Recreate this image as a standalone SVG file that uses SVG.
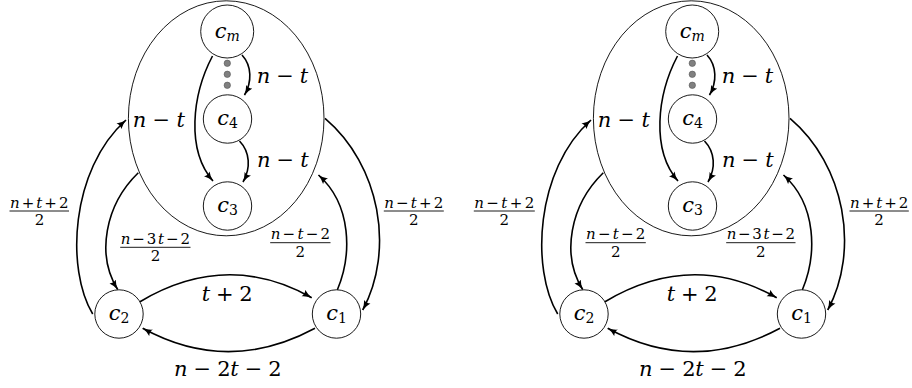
<svg xmlns="http://www.w3.org/2000/svg" width="912" height="388" viewBox="0 0 912 388">
<style>
.bg{fill:#fff}
.nd{fill:#fff;stroke:#000;stroke-width:0.9}
.el{fill:none;stroke:#000;stroke-width:0.9}
.e{fill:none;stroke:#000;stroke-width:1.6;marker-end:url(#ah)}
.m{font-family:"DejaVu Serif","Liberation Serif",serif;font-size:21px;fill:#000}
.fr{font-family:"DejaVu Serif","Liberation Serif",serif;font-size:15px;fill:#000}
.i{font-style:italic}
.sub{font-size:14px}
.bar{stroke:#000;stroke-width:0.9}
.dot{fill:#808080;stroke:#555;stroke-width:0.6}
</style>
<defs>
<marker id="ah" viewBox="0 0 10 8" refX="9.5" refY="4" markerWidth="10" markerHeight="8" markerUnits="userSpaceOnUse" orient="auto">
<path d="M0,0.3 Q4,3 10,4 Q4,5 0,7.7 Q2,4 0,0.3 Z" fill="#000"/>
</marker>
</defs>
<rect class="bg" x="0" y="0" width="912" height="388"/>

<!-- LEFT DIAGRAM -->
<g id="left">
<g id="L-cluster"><ellipse class="el" cx="226.2" cy="118.3" rx="97.8" ry="117.5"/></g>
<g id="L-edges">
<path class="e" d="M212.5,56 C192,95 186,150 213,181"/>
<path class="e" d="M242,55 C252,66 252,82 244.5,95"/>
<path class="e" d="M239.5,141 C250,152 251,168 243,182"/>
<path class="e" d="M92.7,314 C66,270 70,170 126,120"/>
<path class="e" d="M138.3,172.7 C105,205 96,255 117.7,289.5"/>
<path class="e" d="M337.3,290 C352,255 352,205 318.5,175"/>
<path class="e" d="M325,118.3 C380,165 395,250 362.7,310"/>
<path class="e" d="M140,301.7 Q227,250 311.7,297.7"/>
<path class="e" d="M315,328.3 Q228,375 142.7,328.3"/>
</g>
<g id="L-dots">
<circle class="dot" cx="227.3" cy="63.3" r="3.2"/>
<circle class="dot" cx="227.3" cy="74.3" r="3.2"/>
<circle class="dot" cx="227.3" cy="85.3" r="3.2"/>
</g>
<g id="L-cm"><circle class="nd" cx="227.2" cy="31.5" r="26.5"/><text class="m" x="227.2" y="37.5" text-anchor="middle"><tspan class="i">c</tspan><tspan class="sub i" dy="3">m</tspan></text></g>
<g id="L-c4"><circle class="nd" cx="227.5" cy="119" r="24.2"/><text class="m" x="227.5" y="125" text-anchor="middle"><tspan class="i">c</tspan><tspan class="sub" dy="3">4</tspan></text></g>
<g id="L-c3"><circle class="nd" cx="227.5" cy="206" r="24.2"/><text class="m" x="227.5" y="212" text-anchor="middle"><tspan class="i">c</tspan><tspan class="sub" dy="3">3</tspan></text></g>
<g id="L-c2"><circle class="nd" cx="119" cy="314" r="24.2"/><text class="m" x="119" y="320" text-anchor="middle"><tspan class="i">c</tspan><tspan class="sub" dy="3">2</tspan></text></g>
<g id="L-c1"><circle class="nd" cx="336.5" cy="314" r="24.2"/><text class="m" x="336.5" y="320" text-anchor="middle"><tspan class="i">c</tspan><tspan class="sub" dy="3">1</tspan></text></g>
<g id="L-labels">
<text class="m" x="256.7" y="83" textLength="51.6" lengthAdjust="spacing"><tspan class="i">n</tspan> − <tspan class="i">t</tspan></text>
<text class="m" x="257" y="167" textLength="51.6" lengthAdjust="spacing"><tspan class="i">n</tspan> − <tspan class="i">t</tspan></text>
<text class="m" x="132.7" y="126.5" textLength="52.3" lengthAdjust="spacing"><tspan class="i">n</tspan> − <tspan class="i">t</tspan></text>
<text class="m" x="201.7" y="301" textLength="51" lengthAdjust="spacing"><tspan class="i">t</tspan> + 2</text>
<text class="m" x="174" y="376" textLength="107.7" lengthAdjust="spacing"><tspan class="i">n</tspan> − 2<tspan class="i">t</tspan> − 2</text>
<text class="fr" x="10" y="207.5" textLength="58.5" lengthAdjust="spacing"><tspan class="i">n</tspan>+<tspan class="i">t</tspan>+2</text>
<line class="bar" x1="9.5" y1="211" x2="69" y2="211"/>
<text class="fr" x="39.5" y="225" text-anchor="middle">2</text>
<text class="fr" x="120.7" y="243.8" textLength="69.3" lengthAdjust="spacing"><tspan class="i">n</tspan>−3<tspan class="i">t</tspan>−2</text>
<line class="bar" x1="120.2" y1="247.3" x2="190.5" y2="247.3"/>
<text class="fr" x="155.5" y="261.3" text-anchor="middle">2</text>
<text class="fr" x="270.7" y="239.2" textLength="59.3" lengthAdjust="spacing"><tspan class="i">n</tspan>−<tspan class="i">t</tspan>−2</text>
<line class="bar" x1="270.2" y1="242.7" x2="330.5" y2="242.7"/>
<text class="fr" x="300.3" y="256.7" text-anchor="middle">2</text>
<text class="fr" x="384.3" y="207.5" textLength="59" lengthAdjust="spacing"><tspan class="i">n</tspan>−<tspan class="i">t</tspan>+2</text>
<line class="bar" x1="383.8" y1="211" x2="443.8" y2="211"/>
<text class="fr" x="413.8" y="225" text-anchor="middle">2</text>
</g>
</g>

<!-- RIGHT DIAGRAM -->
<g id="right" transform="translate(465,0)">
<g id="R-cluster"><ellipse class="el" cx="226.2" cy="118.3" rx="97.8" ry="117.5"/></g>
<g id="R-edges">
<path class="e" d="M212.5,56 C192,95 186,150 213,181"/>
<path class="e" d="M242,55 C252,66 252,82 244.5,95"/>
<path class="e" d="M239.5,141 C250,152 251,168 243,182"/>
<path class="e" d="M92.7,314 C66,270 70,170 126,120"/>
<path class="e" d="M138.3,172.7 C105,205 96,255 117.7,289.5"/>
<path class="e" d="M337.3,290 C352,255 352,205 318.5,175"/>
<path class="e" d="M325,118.3 C380,165 395,250 362.7,310"/>
<path class="e" d="M140,301.7 Q227,250 311.7,297.7"/>
<path class="e" d="M315,328.3 Q228,375 142.7,328.3"/>
</g>
<g id="R-dots">
<circle class="dot" cx="227.3" cy="63.3" r="3.2"/>
<circle class="dot" cx="227.3" cy="74.3" r="3.2"/>
<circle class="dot" cx="227.3" cy="85.3" r="3.2"/>
</g>
<g id="R-cm"><circle class="nd" cx="227.2" cy="31.5" r="26.5"/><text class="m" x="227.2" y="37.5" text-anchor="middle"><tspan class="i">c</tspan><tspan class="sub i" dy="3">m</tspan></text></g>
<g id="R-c4"><circle class="nd" cx="227.5" cy="119" r="24.2"/><text class="m" x="227.5" y="125" text-anchor="middle"><tspan class="i">c</tspan><tspan class="sub" dy="3">4</tspan></text></g>
<g id="R-c3"><circle class="nd" cx="227.5" cy="206" r="24.2"/><text class="m" x="227.5" y="212" text-anchor="middle"><tspan class="i">c</tspan><tspan class="sub" dy="3">3</tspan></text></g>
<g id="R-c2"><circle class="nd" cx="119" cy="314" r="24.2"/><text class="m" x="119" y="320" text-anchor="middle"><tspan class="i">c</tspan><tspan class="sub" dy="3">2</tspan></text></g>
<g id="R-c1"><circle class="nd" cx="336.5" cy="314" r="24.2"/><text class="m" x="336.5" y="320" text-anchor="middle"><tspan class="i">c</tspan><tspan class="sub" dy="3">1</tspan></text></g>
<g id="R-labels">
<text class="m" x="256.7" y="83" textLength="51.6" lengthAdjust="spacing"><tspan class="i">n</tspan> − <tspan class="i">t</tspan></text>
<text class="m" x="257" y="167" textLength="51.6" lengthAdjust="spacing"><tspan class="i">n</tspan> − <tspan class="i">t</tspan></text>
<text class="m" x="132.7" y="126.5" textLength="52.3" lengthAdjust="spacing"><tspan class="i">n</tspan> − <tspan class="i">t</tspan></text>
<text class="m" x="201.7" y="301" textLength="51" lengthAdjust="spacing"><tspan class="i">t</tspan> + 2</text>
<text class="m" x="174" y="376" textLength="107.7" lengthAdjust="spacing"><tspan class="i">n</tspan> − 2<tspan class="i">t</tspan> − 2</text>
<text class="fr" x="9.3" y="207.5" textLength="60" lengthAdjust="spacing"><tspan class="i">n</tspan>−<tspan class="i">t</tspan>+2</text>
<line class="bar" x1="8.8" y1="211" x2="69.8" y2="211"/>
<text class="fr" x="39.3" y="225" text-anchor="middle">2</text>
<text class="fr" x="121" y="239.2" textLength="59.3" lengthAdjust="spacing"><tspan class="i">n</tspan>−<tspan class="i">t</tspan>−2</text>
<line class="bar" x1="120.5" y1="242.7" x2="180.8" y2="242.7"/>
<text class="fr" x="150.7" y="256.7" text-anchor="middle">2</text>
<text class="fr" x="261.7" y="239.2" textLength="68.3" lengthAdjust="spacing"><tspan class="i">n</tspan>−3<tspan class="i">t</tspan>−2</text>
<line class="bar" x1="261.2" y1="242.7" x2="330.5" y2="242.7"/>
<text class="fr" x="295.8" y="256.7" text-anchor="middle">2</text>
<text class="fr" x="385" y="207.5" textLength="58.3" lengthAdjust="spacing"><tspan class="i">n</tspan>+<tspan class="i">t</tspan>+2</text>
<line class="bar" x1="384.5" y1="211" x2="443.8" y2="211"/>
<text class="fr" x="414" y="225" text-anchor="middle">2</text>
</g>
</g>
</svg>
